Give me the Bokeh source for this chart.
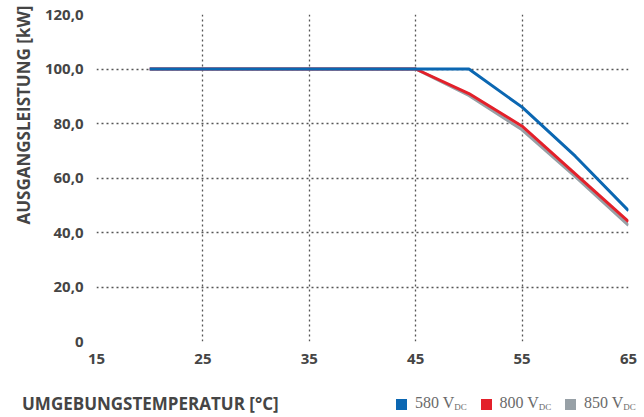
from bokeh.plotting import figure
from bokeh.models import FixedTicker, Range1d, Title, Div
from bokeh.layouts import column
from bokeh.embed import file_html
from bokeh.resources import INLINE

# data
temps = [20, 45, 50, 55, 60, 65]
p580 = [100, 100, 100, 86, 68, 48]
p800 = [100, 100, 91, 79, 61.5, 44]
p850 = [100, 100, 90.3, 77.7, 60.5, 42.6]
x_ticks = [15, 25, 35, 45, 55, 65]
y_ticks = [0, 20, 40, 60, 80, 100, 120]
y_tick_labels = ["0", "20,0", "40,0", "60,0", "80,0", "100,0", "120,0"]
series_names = ["580 V", "800 V", "850 V"]
series_sub = ["DC", "DC", "DC"]
colors = ["#0b67b2", "#e3202a", "#97a0a6"]
x_title = "UMGEBUNGSTEMPERATUR [°C]"
y_title = "AUSGANGSLEISTUNG [kW]"

FONT = "Open Sans"
TICK_COLOR = "#454545"
W = 644

p = figure(width=W, height=385, output_backend="svg", toolbar_location=None,
           x_range=Range1d(15, 65), y_range=Range1d(0, 120),
           min_border_left=96, min_border_right=16, min_border_top=14, min_border_bottom=44)
p.outline_line_color = None
p.background_fill_color = "white"

for ax in (p.xaxis, p.yaxis):
    ax.axis_line_color = None
    ax.major_tick_line_color = None
    ax.minor_tick_line_color = None
    ax.major_tick_out = 0
    ax.major_tick_in = 0
    ax.major_label_text_font = FONT
    ax.major_label_text_font_style = "bold"
    ax.major_label_text_font_size = "15px"
    ax.major_label_text_color = TICK_COLOR

p.xaxis.ticker = FixedTicker(ticks=x_ticks)
p.yaxis.ticker = FixedTicker(ticks=y_ticks)
p.yaxis.major_label_overrides = {t: l for t, l in zip(y_ticks, y_tick_labels)}
p.xaxis.major_label_standoff = 12
p.yaxis.major_label_standoff = 13

for g in (p.xgrid, p.ygrid):
    g.grid_line_color = "#555555"
    g.grid_line_dash = "2 3"
    g.grid_line_width = 1.3

# lines (gray first, blue on top)
for ys, c in [(p850, colors[2]), (p800, colors[1]), (p580, colors[0])]:
    p.line(temps, ys, line_color=c, line_width=3)

# y axis title, top end near the top of the chart
p.add_layout(Title(text=y_title, align="right", offset=-9,
                   text_font=FONT, text_font_style="bold", text_font_size="17px",
                   text_color=TICK_COLOR, standoff=13), "left")

# bottom row: x-axis title + legend
items = []
sq_left = [396, 480.5, 565]
for l, name, sub, c in zip(sq_left, series_names, series_sub, colors):
    items.append(
        f'<span style="position:absolute;left:{l}px;top:14px;width:11px;height:11px;'
        f'background:{c};"></span>'
        f'<span style="position:absolute;left:{l + 19}px;top:8px;white-space:nowrap;'
        f"font-family:'Liberation Serif';font-size:16px;color:#6a6a6a;line-height:20px;\">"
        f'{name}<sub style="font-size:9px;vertical-align:-2px;">{sub}</sub></span>'
    )
html = (
    f'<div style="position:relative;width:{W}px;height:32px;">'
    f'<span style="position:absolute;left:22px;top:8px;white-space:nowrap;'
    f"font-family:'{FONT}';font-weight:bold;font-size:17px;color:{TICK_COLOR};line-height:22px;\">"
    f'{x_title}</span>' + "".join(items) + '</div>'
)
d = Div(text=html, width=W, height=32, margin=0)

layout = column(p, d, spacing=0)
open("out.html", "w").write(file_html(layout, INLINE))
